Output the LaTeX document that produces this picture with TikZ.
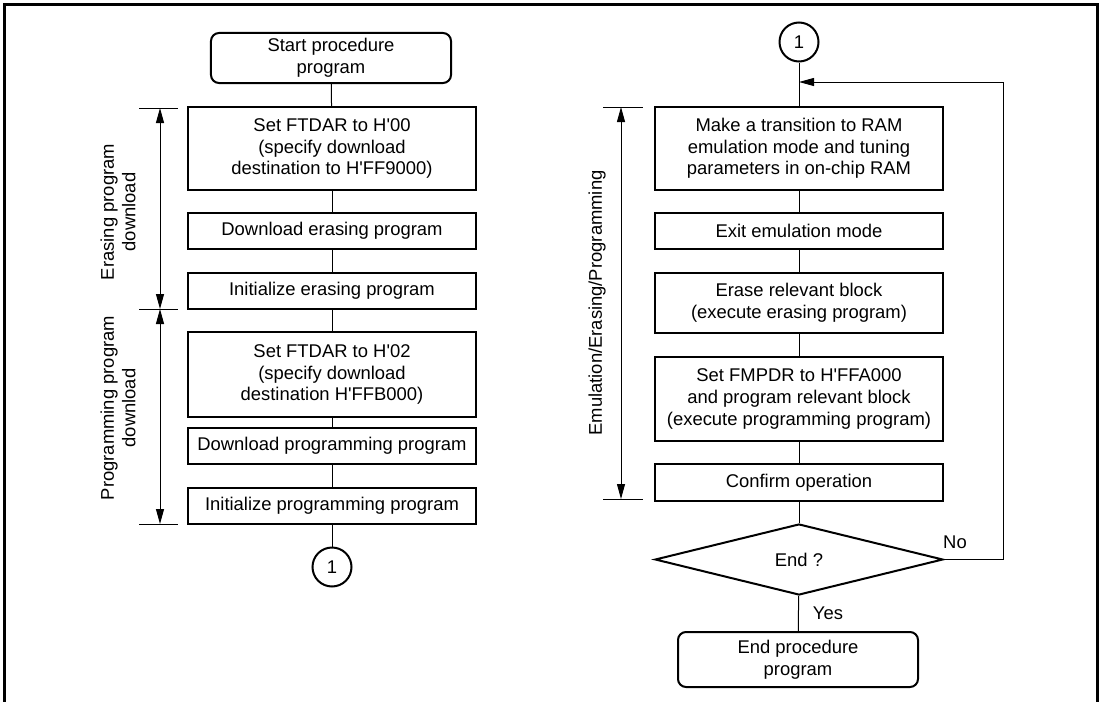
\documentclass[tikz,border=0pt]{standalone}
\usepackage{fontspec}
\setmainfont{Liberation Sans}
\usetikzlibrary{arrows.meta,shapes.geometric}

\tikzset{
  stepbox/.style={draw,line width=0.5mm,minimum width=72mm,inner sep=1mm,align=center},
  termbox/.style={draw,line width=0.5mm,rounded corners=2mm,minimum width=60mm,align=center},
  conn/.style={draw,circle,line width=0.5mm,minimum size=9.75mm,inner sep=0pt},
  decide/.style={draw,diamond,line width=0.5mm,minimum width=72mm,minimum height=17.75mm,inner sep=0pt},
}
\newcommand{\hq}{H\textquotesingle}

\begin{document}
\begin{tikzpicture}[x=0.25mm,y=-0.25mm,line width=0.25mm,
    font=\fontsize{13.1}{15.4}\selectfont,
    >={Triangle[length=3.75mm,width=2mm]}]
  \useasboundingbox (0,0) rectangle (1102,702);
  \draw[line width=0.75mm] (4.5,702) -- (4.5,4.5) -- (1097,4.5) -- (1097,702);

  % left column: download of the programs
  \node[termbox,minimum height=12.5mm] (start) at (331,58) {Start procedure\\program};
  \node[stepbox,minimum height=20.75mm] (setE) at (332,148.5) {Set FTDAR to \hq00\\(specify download\\destination to \hq FF9000)};
  \node[stepbox,minimum height=9mm] (dlE) at (332,231) {Download erasing program};
  \node[stepbox,minimum height=9mm] (initE) at (332,291) {Initialize erasing program};
  \node[stepbox,minimum height=21.25mm] (setP) at (332,374.5) {Set FTDAR to \hq02\\(specify download\\destination \hq FFB000)};
  \node[stepbox,minimum height=9mm] (dlP) at (332,446) {Download programming program};
  \node[stepbox,minimum height=9mm] (initP) at (332,506) {Initialize programming program};
  \node[conn] (conA) at (332,567) {1};
  \foreach \a/\b in {start/setE,setE/dlE,dlE/initE,initE/setP,setP/dlP,dlP/initP,initP/conA}
    \draw (\a) -- (\b);

  % left dimension marks
  \foreach \y in {108,309,524}
    \draw (139,\y) -- (178,\y);
  \draw[<->] (160,108) -- (160,309);
  \draw[<->] (160,309) -- (160,524);
  \node[rotate=90,align=center] (lblE) at (118,212) {Erasing program\\download};
  \node[rotate=90,align=center] (lblP) at (118,408) {Programming program\\download};

  % right column: emulation, erasing and programming
  \node[conn] (conB) at (799,42) {1};
  \node[stepbox,minimum height=20.75mm] (ramEmu) at (799,148.5) {Make a transition to RAM\\emulation mode and tuning\\parameters in on-chip RAM};
  \node[stepbox,minimum height=9mm] (exitEmu) at (799,231) {Exit emulation mode};
  \node[stepbox,minimum height=15mm] (erase) at (799,303) {Erase relevant block\\(execute erasing program)};
  \node[stepbox,minimum height=21mm] (prog) at (799,399) {Set FMPDR to \hq FFA000\\and program relevant block\\(execute programming program)};
  \node[stepbox,minimum height=9.25mm] (confirm) at (799,482.5) {Confirm operation};
  \node[decide] (isEnd) at (799,559.5) {End ?};
  \node[termbox,minimum height=13.75mm] (finish) at (798,659.5) {End procedure\\program};
  \coordinate (merge) at (799,82);
  \foreach \a/\b in {conB/ramEmu,ramEmu/exitEmu,exitEmu/erase,erase/prog,prog/confirm,confirm/isEnd,isEnd/finish}
    \draw (\a) -- (\b);
  \draw[->] (isEnd.east) -- ++(59,0) |- (merge);
  \node (no) at (955,542) {No};
  \node (yes) at (828,613) {Yes};

  % right dimension marks
  \foreach \y in {107,499}
    \draw (603,\y) -- (643,\y);
  \draw[<->] (621,107) -- (621,499);
  \node[rotate=90] (lblR) at (597,303) {Emulation/Erasing/Programming};
\end{tikzpicture}
\end{document}
